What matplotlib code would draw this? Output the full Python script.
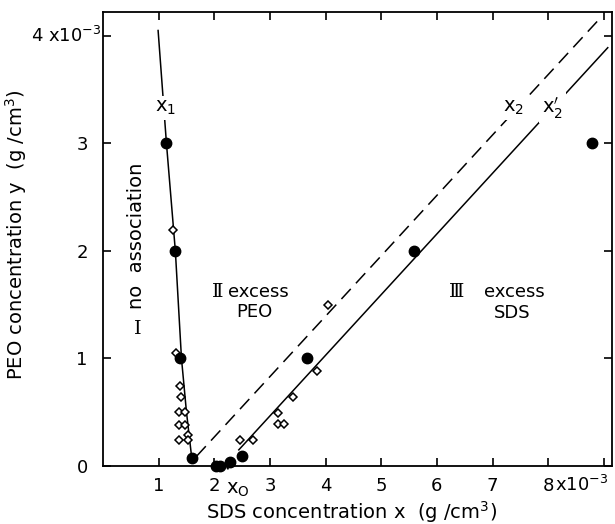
import matplotlib
matplotlib.use("Agg")
import numpy as np
import matplotlib.pyplot as plt

plt.rcParams['font.family'] = ['DejaVu Sans']

# filled circles (x, y in 1e-3 g/cm3)
dot_x = [1.14, 1.30, 1.39, 1.60, 2.03, 2.10, 2.29, 2.49, 3.66, 5.58, 8.79]
dot_y = [3.00, 2.00, 1.00, 0.07, 0.00, 0.00, 0.04, 0.09, 1.00, 2.00, 3.00]

# open diamonds
dia_x = [1.25, 1.32, 1.39, 1.41, 1.36, 1.48, 1.36, 1.48, 1.52, 1.36, 1.52,
         2.46, 2.69, 3.14, 3.14, 3.26, 3.41, 3.84, 4.04]
dia_y = [2.19, 1.05, 0.74, 0.64, 0.50, 0.50, 0.38, 0.38, 0.29, 0.24, 0.24,
         0.24, 0.24, 0.49, 0.39, 0.39, 0.64, 0.88, 1.50]

# boundary lines
x1_x = [0.99, 1.14, 1.30, 1.41, 1.50, 1.60]
x1_y = [4.05, 3.00, 2.00, 1.00, 0.50, 0.05]
x2_x = [1.68, 8.89]
x2_y = [0.09, 4.14]
x2p_x = [2.44, 9.07]
x2p_y = [0.15, 3.89]

xticks = [1, 2, 3, 4, 5, 6, 7, 8, 9]
xlabels = ['1', '2', '3', '4', '5', '6', '7', '8', '']
yticks = [0, 1, 2, 3, 4]
ylabels = ['0', '1', '2', '3', '']

fig = plt.figure(figsize=(6.15, 5.24), dpi=100)
ax = fig.add_axes([0.1675, 0.1107, 0.8275, 0.866])

ax.plot(x1_x, x1_y, color='black', lw=1.1, zorder=2)
ax.plot(x2_x, x2_y, color='black', lw=1.1, dashes=(9, 5), zorder=2)
ax.plot(x2p_x, x2p_y, color='black', lw=1.1, zorder=2)

ax.plot(dia_x, dia_y, linestyle='none', marker='D', markersize=4.3,
        markerfacecolor='white', markeredgecolor='black', markeredgewidth=1.1, zorder=3)
ax.plot(dot_x, dot_y, linestyle='none', marker='o', markersize=7.5,
        color='black', zorder=4, clip_on=False)

ax.set_xlim(0, 9.145)
ax.set_ylim(0, 4.22)
ax.set_xticks(xticks)
ax.set_xticklabels(xlabels)
ax.set_yticks(yticks)
ax.set_yticklabels(ylabels)
ax.tick_params(direction='in', length=6, width=1.2, labelsize=13,
               top=True, right=True)
ax.tick_params(axis='x', pad=8)
ax.tick_params(axis='y', pad=11)
for s in ax.spines.values():
    s.set_linewidth(1.3)

# exponent parts of the end tick labels
ax.text(8.12, -0.18, r'x10$^{-3}$', fontsize=13, ha='left', va='center', clip_on=False)
ax.text(-0.02, 4.0, r'4 x10$^{-3}$', fontsize=13, ha='right', va='center', clip_on=False)

ax.set_xlabel(r'SDS concentration x  (g /cm$^3$)', fontsize=14, va='center', ha='center')
ax.set_ylabel(r'PEO concentration y  (g /cm$^3$)', fontsize=14, va='center', ha='center')
ax.xaxis.set_label_coords(0.489, -0.101)
ax.yaxis.set_label_coords(-0.171, 0.509)

wb = dict(facecolor='white', edgecolor='none', pad=2)
ax.text(1.12, 3.33, r'x$_1$', fontsize=14, ha='center', va='center', bbox=wb, zorder=5)
ax.text(7.38, 3.33, r'x$_2$', fontsize=14, ha='center', va='center', bbox=wb, zorder=5)
ax.text(8.08, 3.33, r"x$_2'$", fontsize=14, ha='center', va='center', bbox=wb, zorder=5)

ax.text(0.60, 2.14, 'no  association', fontsize=14, rotation=90,
        ha='center', va='center')
ax.text(0.62, 1.27, 'I', fontsize=14, family='DejaVu Serif', ha='center', va='center')
ax.text(2.06, 1.62, 'Ⅱ', fontsize=14, family='DejaVu Serif', ha='center', va='center')
ax.text(2.80, 1.62, 'excess', fontsize=13, ha='center', va='center')
ax.text(2.72, 1.43, 'PEO', fontsize=13, ha='center', va='center')
ax.text(6.36, 1.62, 'Ⅲ', fontsize=14, family='DejaVu Serif', ha='center', va='center')
ax.text(7.39, 1.62, 'excess', fontsize=13, ha='center', va='center')
ax.text(7.35, 1.42, 'SDS', fontsize=13, ha='center', va='center')

ax.annotate(r'x$_{\rm O}$', xy=(2.23, -0.01), xytext=(2.43, -0.22),
            fontsize=14, ha='center', va='center', annotation_clip=False,
            arrowprops=dict(arrowstyle='-', color='black', lw=1.5,
                            shrinkA=7, shrinkB=0))

fig.savefig('out.png', dpi=100)
